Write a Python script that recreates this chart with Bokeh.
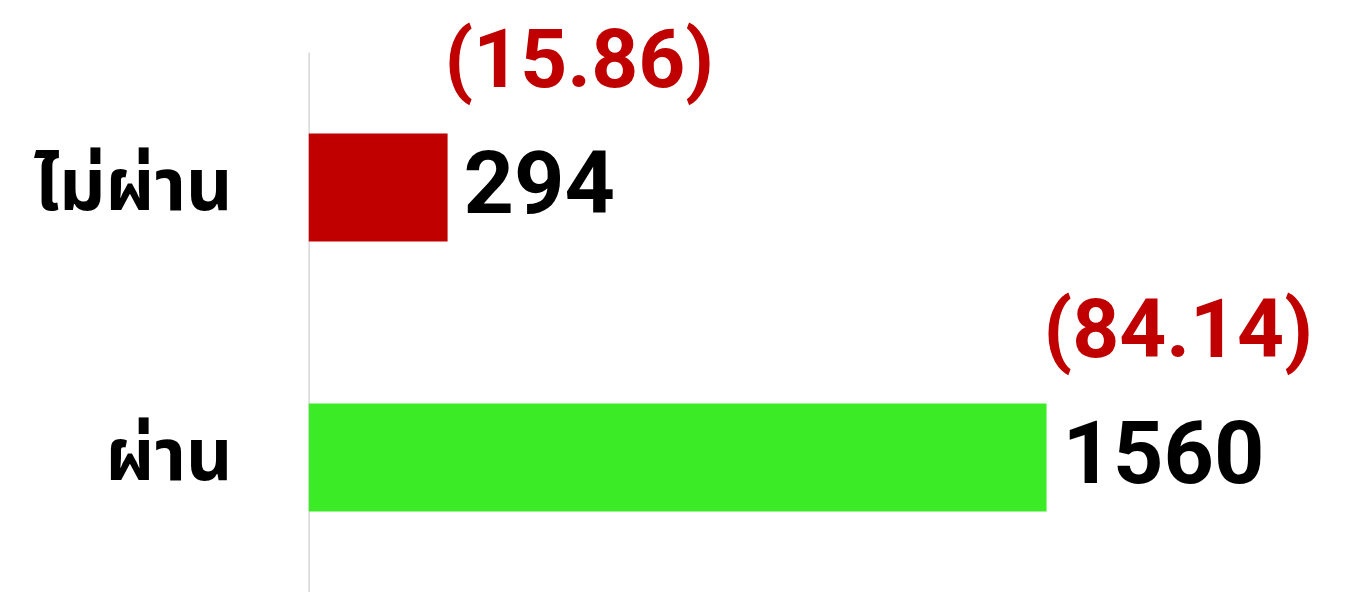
from bokeh.plotting import figure
from bokeh.models import ColumnDataSource, Range1d, FixedTicker
from bokeh.core.properties import value
from bokeh.embed import file_html
from bokeh.resources import INLINE

categories = ["ไม่ผ่าน", "ผ่าน"]
counts = [294, 1560]
percents = [15.86, 84.14]
colors = ["#C00000", "#3AEB26"]

n = len(categories)
ypos = [n - i - 0.5 for i in range(n)]
src = ColumnDataSource(dict(
    y=ypos,
    cat=categories,
    count=counts,
    count_txt=[str(c) for c in counts],
    pct_txt=["(%.2f)" % p for p in percents],
    pct_y=[y + 0.5 for y in ypos],
    color=colors,
))

p = figure(width=1372, height=592, output_backend="svg", toolbar_location=None,
           x_range=Range1d(0, 2249), y_range=Range1d(0, 2.1926),
           min_border_left=308, min_border_right=0, min_border_top=0, min_border_bottom=0)
p.outline_line_color = None
p.grid.visible = False
p.xaxis.visible = False
p.background_fill_color = "white"
p.border_fill_color = "white"

yax = p.yaxis[0]
yax.ticker = FixedTicker(ticks=ypos)
yax.major_label_overrides = {y: c for y, c in zip(ypos, categories)}
yax.axis_line_color = None
yax.major_tick_line_color = None
yax.minor_tick_line_color = None
yax.major_tick_out = 0
yax.major_label_standoff = 76
yax.major_label_text_font = "Noto Sans Thai, Noto Sans, sans-serif"
yax.major_label_text_font_size = "72px"
yax.major_label_text_font_style = "bold"
yax.major_label_text_color = "black"

p.segment(x0=0, y0=0, x1=0, y1=n, line_color="#cfcfcf", line_width=2.5)

p.hbar(y="y", left=0, right="count", height=0.4, fill_color="color", line_color=None, source=src)

p.text(x="count", y="y", text="count_txt", source=src, text_align="left", text_baseline="middle",
       x_offset=16, y_offset=-6, text_font=value("Roboto"), text_font_size="88px",
       text_font_style="bold", text_color="black")
p.text(x="count", y="pct_y", text="pct_txt", source=src, text_align="left", text_baseline="middle",
       x_offset=-3, y_offset=6, text_font=value("Roboto"), text_font_size="82px", text_font_style="bold",
       text_color="#C00000")

open("out.html", "w").write(file_html(p, INLINE))
